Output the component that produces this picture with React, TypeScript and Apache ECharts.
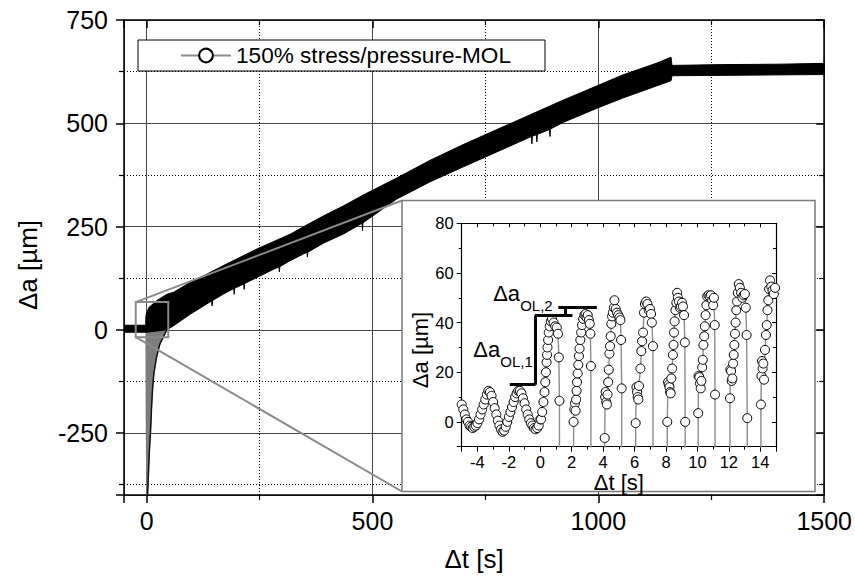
import React, { useEffect, useRef } from 'react';
import * as echarts from 'echarts';

// ---------- main plot: envelope of the dense oscillating record ----------
const upperT = [-50, -2, -1.5, 5, 23, 45, 60, 97, 134, 171, 208, 245, 282, 319, 355, 392, 436, 479, 553, 627, 700, 774, 848, 922, 996, 1054, 1128, 1161, 1163, 1275, 1400, 1500];
const upperA = [11, 11, 35, 54, 71, 86, 91, 115, 135, 156, 176, 196, 214, 232, 254, 276, 300, 326, 367, 410, 448, 484, 520, 556, 590, 617, 645, 660, 640, 642, 643, 645];
const lowerT = [-50, 0, 45, 60, 97, 134, 144, 145, 146, 171, 193, 194, 195, 208, 215, 216, 217, 245, 282, 293, 294, 295, 319, 355, 356, 357, 392, 436, 477, 478, 479, 553, 627, 700, 774, 848, 852, 853, 854, 863, 864, 865, 892, 893, 894, 922, 996, 1054, 1128, 1161, 1163, 1500];
const lowerA = [-6, -6, 0, 10, 38, 63, 70, 58, 71, 87, 100, 86, 101, 107, 111, 98, 112, 127, 147, 152, 140, 153, 168, 188, 176, 188, 210, 232, 258, 240, 259, 316, 358, 394, 430, 466, 468, 450, 469, 472, 455, 473, 485, 468, 486, 502, 536, 561, 590, 603, 615, 618];
// initial downward spike (right and left edges)
const spikeRightT = [45, 40.5, 29.5, 22, 16, 13, 11, 8.8, 5.8, 3.6, 2];
const spikeRightA = [0, -10, -34, -66, -106, -147, -187, -244, -300, -365, -400];
const spikeLeftT = [0.5, -1, -1.5];
const spikeLeftA = [-400, -200, 0];

// zoom window drawn in the main plot (data coords)
const zoomBoxT = [-24, 48];
const zoomBoxA = [-18, 67];

// ---------- inset: sampled points [Δt s, Δa µm] ----------
const insetSamples: [number, number][] = [
  [-5.0, 7], [-4.9, 5], [-4.8, 3], [-4.7, 1], [-4.6, 0], [-4.5, -1.5], [-4.4, -2], [-4.3, -2.5], [-4.2, -2], [-4.1, -1.5],
  [-4.0, -0.5], [-3.9, 1], [-3.8, 3], [-3.7, 5], [-3.6, 7], [-3.5, 9], [-3.4, 11], [-3.3, 12.5], [-3.2, 12], [-3.1, 10.5],
  [-3.0, 8], [-2.9, 5.5], [-2.8, 3], [-2.7, 0.5], [-2.6, -1.5], [-2.5, -3], [-2.4, -4], [-2.3, -3.5], [-2.2, -2], [-2.1, 0],
  [-2.0, 2], [-1.9, 4], [-1.8, 6], [-1.7, 8], [-1.6, 10], [-1.5, 11.5], [-1.4, 12.5], [-1.3, 12.5], [-1.2, 11.5], [-1.1, 9.5],
  [-1.0, 7.5], [-0.9, 5], [-0.8, 3], [-0.7, 1], [-0.6, -0.5], [-0.5, -1.5], [-0.4, -2.5], [-0.3, -3], [-0.2, -2.5], [-0.1, -1.5],
  [0.0, 1], [0.05, 1], [0.12, 4], [0.2, 8], [0.27, 12], [0.32, 16], [0.36, 20], [0.4, 24], [0.43, 27], [0.46, 30],
  [0.5, 33], [0.54, 36], [0.6, 38.5], [0.67, 40.5], [0.75, 41.5], [0.85, 40], [0.95, 38.5], [1.05, 38], [1.13, 35.5], [1.18, 26],
  [1.22, 8.5], [1.25, -380],
  [2.1, -380], [2.12, 0], [2.17, 5], [2.21, 7.5], [2.25, 4.5], [2.28, 9], [2.31, 12.5], [2.34, 16], [2.38, 19.5], [2.42, 23],
  [2.46, 26.5], [2.5, 29.5], [2.55, 33], [2.6, 36], [2.66, 39], [2.73, 41.5], [2.81, 43], [2.88, 43.5], [2.95, 42], [3.02, 43],
  [3.09, 41], [3.15, 39.5], [3.19, 35.5], [3.22, 22.5], [3.24, -380],
  [4.08, -380], [4.1, -6.5], [4.13, 10], [4.16, 12], [4.2, 8], [4.24, 7], [4.28, 11], [4.32, 16], [4.36, 21], [4.4, 27.5],
  [4.44, 30.5], [4.48, 34.5], [4.52, 39.5], [4.57, 42.5], [4.62, 44], [4.68, 46], [4.72, 49], [4.8, 45.5], [4.88, 44], [4.96, 43],
  [5.04, 42], [5.1, 41], [5.14, 33], [5.18, 13.5], [5.21, -380],
  [6.05, -380], [6.07, -0.5], [6.12, 14], [6.16, 12], [6.2, 10], [6.24, 9], [6.28, 14.5], [6.37, 21.5], [6.43, 28.5], [6.48, 32.5],
  [6.54, 36], [6.6, 44], [6.66, 47.5], [6.74, 48.5], [6.82, 47.5], [6.9, 45], [6.98, 45.5], [7.05, 43.5], [7.1, 40], [7.17, 30.5],
  [7.19, -380],
  [8.06, -380], [8.08, 0], [8.13, 16], [8.18, 15], [8.22, 14], [8.26, 12], [8.3, 11.5], [8.34, 17.5], [8.39, 21.5], [8.44, 27],
  [8.48, 31], [8.51, 36], [8.55, 40.5], [8.6, 45], [8.66, 48], [8.71, 52], [8.76, 50], [8.82, 48.5], [8.88, 46], [8.95, 46.5],
  [9.02, 48], [9.08, 46.5], [9.15, 43], [9.2, 32], [9.22, 0], [9.24, -380],
  [10.03, -380], [10.05, 3.5], [10.07, 18.5], [10.12, 18], [10.16, 15.5], [10.21, 13.5], [10.25, 16.5], [10.3, 22], [10.34, 25], [10.38, 31],
  [10.43, 34.5], [10.47, 38.5], [10.52, 43], [10.57, 47], [10.62, 50.5], [10.7, 51], [10.78, 50.5], [10.86, 51], [10.94, 49], [11.0, 47],
  [11.05, 50], [11.1, 39], [11.12, 11], [11.14, -380],
  [12.05, -380], [12.07, 9.5], [12.1, 21], [12.14, 20.5], [12.18, 16.5], [12.22, 17.5], [12.27, 23.5], [12.31, 27], [12.35, 31], [12.39, 35.5],
  [12.43, 40], [12.47, 45], [12.52, 48.5], [12.57, 52], [12.63, 55.5], [12.7, 54], [12.78, 52], [12.86, 50], [12.94, 51], [13.02, 51.5],
  [13.08, 46], [13.13, 35], [13.17, 1.5], [13.19, -380],
  [14.02, -380], [14.04, 7], [14.07, 18.5], [14.11, 24.5], [14.15, 21.5], [14.19, 23.5], [14.24, 17], [14.3, 29], [14.36, 35], [14.41, 39],
  [14.46, 45], [14.51, 49], [14.56, 53.5], [14.62, 57], [14.7, 54.5], [14.78, 53], [14.86, 51.5], [14.94, 54], [15.02, 53],
];

// bracket segments in the inset: [t0, a0, t1, a1]
const bracketSegments = [
  [-1.94, 15, -0.3, 15],
  [-0.35, 15, -0.35, 42.8],
  [-0.35, 42.8, 2.05, 42.8],
  [1.6, 42.8, 1.6, 46],
  [1.15, 46, 3.6, 46],
];
// annotation labels (inset coords of the "Δa" part)
const labelOL1 = [-4.26, 29];
const labelOL2 = [-3.0, 51.9];

const seriesName = '150% stress/pressure-MOL';
const FONT = 'Liberation Sans, Arial, Helvetica, sans-serif';

// layout
const MAIN = { left: 124, top: 20, right: 30, bottom: 84 };
const INSET_BOX = { x: 402, y: 200.5, w: 413, h: 291 };
const INSET_GRID = { left: 461.7, top: 223.3, width: 314.3, height: 223.4 };

const plain = (v: number) => String(v);

function mainAxisCommon(extra: any) {
  return {
    type: 'value',
    gridIndex: 0,
    axisLine: { show: true, onZero: false, lineStyle: { color: '#000', width: 1.5 } },
    axisTick: { show: true, length: 8, lineStyle: { color: '#000', width: 1.5 } },
    minorTick: { show: true, splitNumber: 2, length: 5, lineStyle: { color: '#000', width: 1.2 } },
    ...extra,
  };
}

function insetAxisCommon(extra: any) {
  return {
    type: 'value',
    gridIndex: 1,
    z: 10,
    axisLine: { show: true, onZero: false, lineStyle: { color: '#000', width: 1.2 } },
    axisTick: { show: true, length: 5, lineStyle: { color: '#000', width: 1 } },
    minorTick: { show: true, splitNumber: 2, length: 3, lineStyle: { color: '#000', width: 1 } },
    splitLine: { show: false },
    ...extra,
  };
}

export default function App() {
  const ref = useRef<HTMLDivElement>(null);
  useEffect(() => {
    if (!ref.current) return;
    const chart = echarts.init(ref.current, null, { renderer: 'svg' });

    const bandPolygon = (params: any, api: any) => {
      const pts: number[][] = [];
      upperT.forEach((t, i) => pts.push(api.coord([t, upperA[i]])));
      for (let i = lowerT.length - 1; i >= 0; i--) pts.push(api.coord([lowerT[i], lowerA[i]]));
      return { type: 'polygon', shape: { points: pts }, style: { fill: '#000', stroke: '#000', lineWidth: 1 } };
    };
    const spikePolygon = (params: any, api: any) => {
      const pts: number[][] = [];
      spikeRightT.forEach((t, i) => pts.push(api.coord([t, spikeRightA[i]])));
      spikeLeftT.forEach((t, i) => pts.push(api.coord([t, spikeLeftA[i]])));
      return { type: 'polygon', shape: { points: pts }, style: { fill: '#7d7d7d', stroke: '#7d7d7d', lineWidth: 1 } };
    };

    const option: any = {
      animation: false,
      backgroundColor: '#fff',
      textStyle: { fontFamily: FONT },
      grid: [
        { left: MAIN.left, top: MAIN.top, right: MAIN.right, bottom: MAIN.bottom, containLabel: false },
        { left: INSET_GRID.left, top: INSET_GRID.top, width: INSET_GRID.width, height: INSET_GRID.height, containLabel: false, z: 10 },
      ],
      legend: {
        data: [seriesName],
        left: 138,
        top: 40,
        orient: 'horizontal',
        padding: [4, 34, 4, 42],
        itemWidth: 50,
        itemHeight: 17,
        itemGap: 5,
        backgroundColor: '#fff',
        borderColor: '#000',
        borderWidth: 1,
        textStyle: { fontSize: 22.6, color: '#000', fontFamily: FONT },
        selectedMode: false,
      },
      xAxis: [
        mainAxisCommon({
          position: 'bottom', min: -50, max: 1500, splitNumber: 3, minInterval: 500, maxInterval: 500,
          axisLabel: { fontSize: 25, color: '#000', margin: 13, showMinLabel: false, fontFamily: FONT, formatter: plain },
          splitLine: { show: true, lineStyle: { color: '#444', width: 1 } },
          minorSplitLine: { show: true, lineStyle: { color: '#000', width: 1, type: [1, 2] } },
          name: 'Δt [s]', nameLocation: 'middle', nameGap: 51,
          nameTextStyle: { fontSize: 26, color: '#000', fontFamily: FONT },
        }),
        mainAxisCommon({
          position: 'top', min: -50, max: 1500, splitNumber: 3, minInterval: 500, maxInterval: 500,
          axisTick: { show: true, inside: true, length: 8, lineStyle: { color: '#000', width: 1.5 } },
          axisLabel: { show: false }, splitLine: { show: false },
        }),
        insetAxisCommon({
          position: 'bottom', min: -5, max: 15, splitNumber: 10, minInterval: 2, maxInterval: 2,
          axisLabel: { fontSize: 16.5, color: '#000', margin: 7, showMinLabel: false, showMaxLabel: false, fontFamily: FONT, formatter: plain },
          name: 'Δt [s]', nameLocation: 'middle', nameGap: 21,
          nameTextStyle: { fontSize: 22, color: '#000', fontFamily: FONT },
        }),
        insetAxisCommon({
          position: 'top', min: -5, max: 15, splitNumber: 10, minInterval: 2, maxInterval: 2,
          axisTick: { show: true, inside: true, length: 4, lineStyle: { color: '#000', width: 1 } },
          axisLabel: { show: false },
        }),
      ],
      yAxis: [
        mainAxisCommon({
          position: 'left', min: -400, max: 750, splitNumber: 5, minInterval: 250, maxInterval: 250,
          axisLabel: { fontSize: 25, color: '#000', margin: 16, showMinLabel: false, fontFamily: FONT, formatter: plain },
          splitLine: { show: true, lineStyle: { color: '#444', width: 1 } },
          minorSplitLine: { show: true, lineStyle: { color: '#000', width: 1, type: [1, 2] } },
          name: 'Δa [µm]', nameLocation: 'middle', nameGap: 83,
          nameTextStyle: { fontSize: 26, color: '#000', fontFamily: FONT, padding: [0, 15, 0, 0] },
        }),
        mainAxisCommon({
          position: 'right', min: -400, max: 750, splitNumber: 5, minInterval: 250, maxInterval: 250,
          axisTick: { show: true, inside: true, length: 8, lineStyle: { color: '#000', width: 1.5 } },
          axisLabel: { show: false }, splitLine: { show: false },
        }),
        insetAxisCommon({
          position: 'left', min: -10, max: 80, splitNumber: 4, minInterval: 20, maxInterval: 20,
          axisLabel: { fontSize: 16.5, color: '#000', margin: 8, showMinLabel: false, fontFamily: FONT, formatter: plain },
          name: 'Δa [µm]', nameLocation: 'middle', nameGap: 25,
          nameTextStyle: { fontSize: 22, color: '#000', fontFamily: FONT, padding: [0, 30, 0, 0] },
        }),
        insetAxisCommon({
          position: 'right', min: -10, max: 80, splitNumber: 4, minInterval: 20, maxInterval: 20,
          axisTick: { show: true, inside: true, length: 4, lineStyle: { color: '#000', width: 1 } },
          axisLabel: { show: false },
        }),
      ],
      series: [
        {
          type: 'custom', name: 'spike', xAxisIndex: 0, yAxisIndex: 0, z: 1, silent: true, clip: true,
          data: [[spikeRightT[0], spikeRightA[0]]], renderItem: spikePolygon,
        },
        {
          type: 'line', name: 'spikeEdge', xAxisIndex: 0, yAxisIndex: 0, z: 2, silent: true,
          showSymbol: false, symbol: 'none',
          data: spikeRightT.map((t, i) => [t, spikeRightA[i]]),
          lineStyle: { color: '#111', width: 1.5 },
        },
        {
          type: 'custom', name: 'band', xAxisIndex: 0, yAxisIndex: 0, z: 2, silent: true, clip: true,
          data: [[upperT[0], upperA[0]]], renderItem: bandPolygon,
        },
        {
          type: 'line', name: seriesName, xAxisIndex: 2, yAxisIndex: 2, z: 10, clip: true,
          data: insetSamples,
          symbol: 'circle', symbolSize: 9, showSymbol: true,
          itemStyle: { color: '#fff', borderColor: '#000', borderWidth: 1 },
          lineStyle: { color: '#8c8c8c', width: 1.4 },
          markLine: {
            z: 11,
            silent: true, symbol: 'none', label: { show: false },
            lineStyle: { color: '#000', width: 3, type: 'solid' },
            emphasis: { disabled: true },
            data: bracketSegments.map((s) => [{ coord: [s[0], s[1]] }, { coord: [s[2], s[3]] }]),
          },
        },
      ],
    };
    chart.setOption(option);

    const p = (v: number[]) => chart.convertToPixel({ xAxisIndex: 0, yAxisIndex: 0 }, v) as number[];
    const q = (v: number[]) => chart.convertToPixel({ xAxisIndex: 2, yAxisIndex: 2 }, v) as number[];
    const zTL = p([zoomBoxT[0], zoomBoxA[1]]);
    const zBR = p([zoomBoxT[1], zoomBoxA[0]]);
    const l1 = q(labelOL1);
    const l2 = q(labelOL2);
    const gray = '#8a8a8a';
    const annot = (pt: number[], sub: string) => ({
      type: 'group', x: pt[0], y: pt[1], z: 12,
      children: [
        { type: 'text', z: 12, style: { text: 'Δa', x: 0, y: 0, fontSize: 22, fontFamily: FONT, fill: '#000', verticalAlign: 'middle', align: 'left' } },
        { type: 'text', z: 12, style: { text: sub, x: 27, y: 12, fontSize: 15, fontFamily: FONT, fill: '#000', verticalAlign: 'middle', align: 'left' } },
      ],
    });
    chart.setOption({
      graphic: [
        { type: 'rect', z: 5, shape: { x: INSET_BOX.x, y: INSET_BOX.y, width: INSET_BOX.w, height: INSET_BOX.h }, style: { fill: '#fff', stroke: '#7a7a7a', lineWidth: 1.5 } },
        { type: 'rect', z: 6, shape: { x: zTL[0], y: zTL[1], width: zBR[0] - zTL[0], height: zBR[1] - zTL[1] }, style: { fill: 'none', stroke: gray, lineWidth: 2 } },
        { type: 'line', z: 6, shape: { x1: zTL[0], y1: zTL[1], x2: INSET_BOX.x, y2: INSET_BOX.y }, style: { stroke: gray, lineWidth: 2 } },
        { type: 'line', z: 6, shape: { x1: zTL[0], y1: zBR[1], x2: INSET_BOX.x, y2: INSET_BOX.y + INSET_BOX.h }, style: { stroke: gray, lineWidth: 2 } },
        annot(l1, 'OL,1'),
        annot(l2, 'OL,2'),
      ],
    });

    return () => chart.dispose();
  }, []);
  return <div ref={ref} style={{ position: 'absolute', left: 0, top: 0, width: 855, height: 579 }} />;
}
